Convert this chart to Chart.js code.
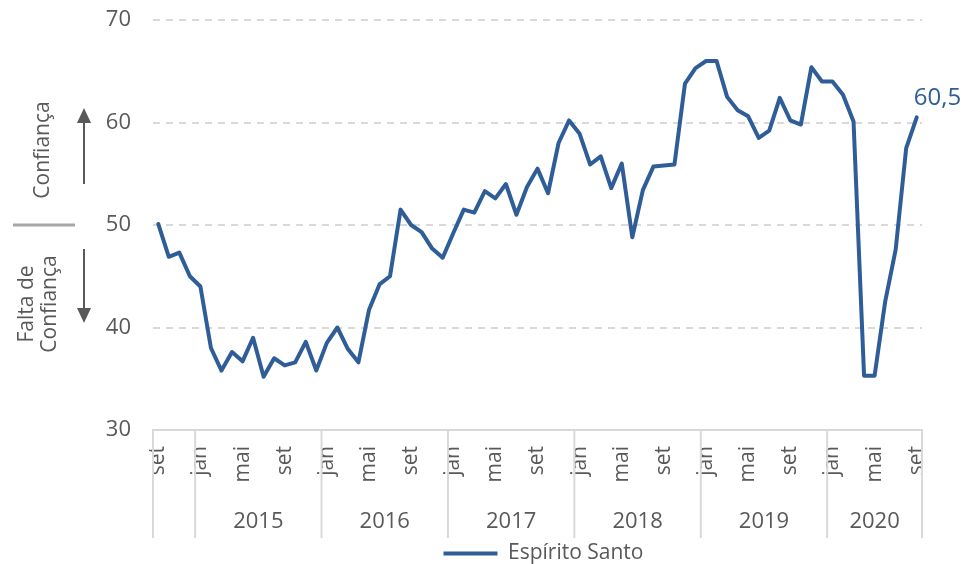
<!DOCTYPE html>
<html lang="pt-BR">
<head>
  <meta charset="UTF-8" />
  <title>Confiança - Espírito Santo</title>
  <script src="https://cdn.jsdelivr.net/npm/chart.js"></script>
  <style>
    body {
      margin: 0;
      background: #fff;
    }
    #wrap {
      width: 975px;
      height: 564px;
      position: relative;
    }
  </style>
</head>
<body>
  <div id="wrap"><canvas id="chart"></canvas></div>

  <script>
    // meses de set/2014 a set/2020
    const monthNames = ['jan', 'fev', 'mar', 'abr', 'mai', 'jun', 'jul', 'ago', 'set', 'out', 'nov', 'dez'];
    const months = [];
    for (let i = 0; i < 73; i++) months.push(monthNames[(8 + i) % 12]);

    const yearLabels = ['2015', '2016', '2017', '2018', '2019', '2020'];

    const espiritoSanto = [
      50.1, 46.9, 47.3, 45.0,
      44.0, 38.0, 35.8, 37.6, 36.7, 39.0, 35.2, 37.0, 36.3, 36.6, 38.6, 35.8,
      38.5, 40.0, 37.9, 36.6, 41.7, 44.2, 45.0, 51.5, 50.0, 49.3, 47.7, 46.8,
      49.2, 51.5, 51.2, 53.3, 52.6, 54.0, 51.0, 53.7, 55.5, 53.1, 58.0, 60.2,
      58.9, 55.9, 56.7, 53.6, 56.0, 48.8, 53.4, 55.7, 55.8, 55.9, 63.8, 65.3,
      66.0, 66.0, 62.5, 61.2, 60.6, 58.5, 59.2, 62.4, 60.2, 59.8, 65.4, 64.0,
      64.0, 62.7, 60.1, 35.3, 35.3, 42.5, 47.6, 57.5, 60.5
    ];

    const yMin = 30;
    const yMax = 70;
    const yStep = 10;

    const blue = '#2F5D98';
    const textGray = '#595959';
    const lineGray = '#D9D9D9';

    Chart.defaults.font.family = "'Open Sans', sans-serif";
    Chart.defaults.color = textGray;

    // empurra a legenda para baixo/direita como no original
    const legendShift = {
      id: 'legendShift',
      afterLayout(chart) {
        const lg = chart.legend;
        if (!lg) return;
        lg.top += 10;
        lg.bottom += 10;
        lg.left += 56;
        lg.right += 56;
      }
    };

    // anos abaixo dos meses + separadores
    const yearGroups = {
      id: 'yearGroups',
      afterDraw(chart) {
        const ctx = chart.ctx;
        const xs = chart.scales.x;
        const step = xs.getPixelForValue(1) - xs.getPixelForValue(0);
        const bottom = xs.top + 108;
        const cuts = [xs.left];
        months.forEach((m, i) => {
          if (m === 'jan') cuts.push(xs.getPixelForValue(i) - step / 2);
        });
        cuts.push(xs.right);

        ctx.save();
        ctx.strokeStyle = lineGray;
        ctx.lineWidth = 2;
        cuts.forEach(x => {
          ctx.beginPath();
          ctx.moveTo(x, xs.top);
          ctx.lineTo(x, bottom);
          ctx.stroke();
        });

        ctx.fillStyle = textGray;
        ctx.font = "22px 'Open Sans', sans-serif";
        ctx.textAlign = 'center';
        ctx.textBaseline = 'middle';
        yearLabels.forEach((y, k) => {
          const a = cuts[k + 1];
          const b = cuts[k + 2];
          ctx.fillText(y, (a + b) / 2, xs.top + 92);
        });
        ctx.restore();
      }
    };

    // rótulo do último ponto
    const lastLabel = {
      id: 'lastLabel',
      afterDatasetsDraw(chart) {
        const meta = chart.getDatasetMeta(0);
        const pt = meta.data[meta.data.length - 1];
        const v = espiritoSanto[espiritoSanto.length - 1];
        const ctx = chart.ctx;
        ctx.save();
        ctx.fillStyle = blue;
        ctx.font = "24px 'Open Sans', sans-serif";
        ctx.textAlign = 'left';
        ctx.textBaseline = 'alphabetic';
        ctx.fillText(v.toFixed(1).replace('.', ','), pt.x - 3, pt.y - 12);
        ctx.restore();
      }
    };

    // Confiança / Falta de Confiança à esquerda
    const sideNote = {
      id: 'sideNote',
      afterDraw(chart) {
        const ctx = chart.ctx;
        const ys = chart.scales.y;
        const mid = ys.getPixelForValue(50);
        ctx.save();

        ctx.strokeStyle = '#A6A6A6';
        ctx.lineWidth = 3;
        ctx.beginPath();
        ctx.moveTo(13, mid);
        ctx.lineTo(75, mid);
        ctx.stroke();

        ctx.strokeStyle = textGray;
        ctx.fillStyle = textGray;
        ctx.lineWidth = 2;
        const ax = 84;
        // seta para cima
        ctx.beginPath();
        ctx.moveTo(ax, 184);
        ctx.lineTo(ax, 118);
        ctx.stroke();
        ctx.beginPath();
        ctx.moveTo(ax, 108);
        ctx.lineTo(ax - 7, 123);
        ctx.lineTo(ax + 7, 123);
        ctx.closePath();
        ctx.fill();
        // seta para baixo
        ctx.beginPath();
        ctx.moveTo(ax, 249);
        ctx.lineTo(ax, 313);
        ctx.stroke();
        ctx.beginPath();
        ctx.moveTo(ax, 323);
        ctx.lineTo(ax - 7, 308);
        ctx.lineTo(ax + 7, 308);
        ctx.closePath();
        ctx.fill();

        ctx.font = "21px 'Open Sans', sans-serif";
        ctx.textAlign = 'center';
        ctx.textBaseline = 'middle';
        ctx.save();
        ctx.translate(43, 150);
        ctx.rotate(-Math.PI / 2);
        ctx.fillText('Confiança', 0, 0);
        ctx.restore();

        ctx.save();
        ctx.translate(27, 304);
        ctx.rotate(-Math.PI / 2);
        ctx.fillText('Falta de', 0, 0);
        ctx.fillText('Confiança', 0, 23);
        ctx.restore();

        ctx.restore();
      }
    };

    new Chart(document.getElementById('chart'), {
      type: 'line',
      data: {
        labels: months,
        datasets: [{
          label: 'Espírito Santo',
          data: espiritoSanto,
          borderColor: blue,
          backgroundColor: blue,
          borderWidth: 4,
          borderJoinStyle: 'round',
          borderCapStyle: 'round',
          pointRadius: 0,
          pointHoverRadius: 0,
          tension: 0,
          fill: false
        }]
      },
      options: {
        responsive: true,
        maintainAspectRatio: false,
        animation: false,
        layout: {
          padding: { top: 20, left: 0, right: 0, bottom: 0 }
        },
        plugins: {
          tooltip: { enabled: false },
          legend: {
            position: 'bottom',
            labels: {
              usePointStyle: true,
              pointStyle: 'line',
              pointStyleWidth: 54,
              padding: 0,
              color: textGray,
              font: { size: 21 }
            }
          }
        },
        scales: {
          x: {
            offset: true,
            grid: { display: false, drawTicks: false },
            border: { display: true, color: lineGray, width: 2 },
            ticks: {
              autoSkip: false,
              minRotation: 90,
              maxRotation: 90,
              padding: 16,
              color: textGray,
              font: { size: 21 },
              callback: (v, i) => (i % 4 === 0 ? months[i] : '')
            },
            afterFit: s => { s.height = 103; }
          },
          y: {
            min: yMin,
            max: yMax,
            ticks: {
              stepSize: yStep,
              padding: 22,
              color: textGray,
              font: { size: 22 }
            },
            grid: {
              drawTicks: false,
              lineWidth: 2,
              color: c => (c.tick && c.tick.value === yMin ? 'rgba(0,0,0,0)' : lineGray)
            },
            border: { display: false, dash: [7, 6] },
            afterFit: s => {
              s.width = 153;
              s.paddingTop = 0;
              s.paddingBottom = 0;
            }
          },
          yRight: {
            position: 'right',
            ticks: { display: false },
            grid: { display: false },
            border: { display: false },
            afterFit: s => { s.width = 53; }
          }
        }
      },
      plugins: [legendShift, yearGroups, lastLabel, sideNote]
    });
  </script>
</body>
</html>
